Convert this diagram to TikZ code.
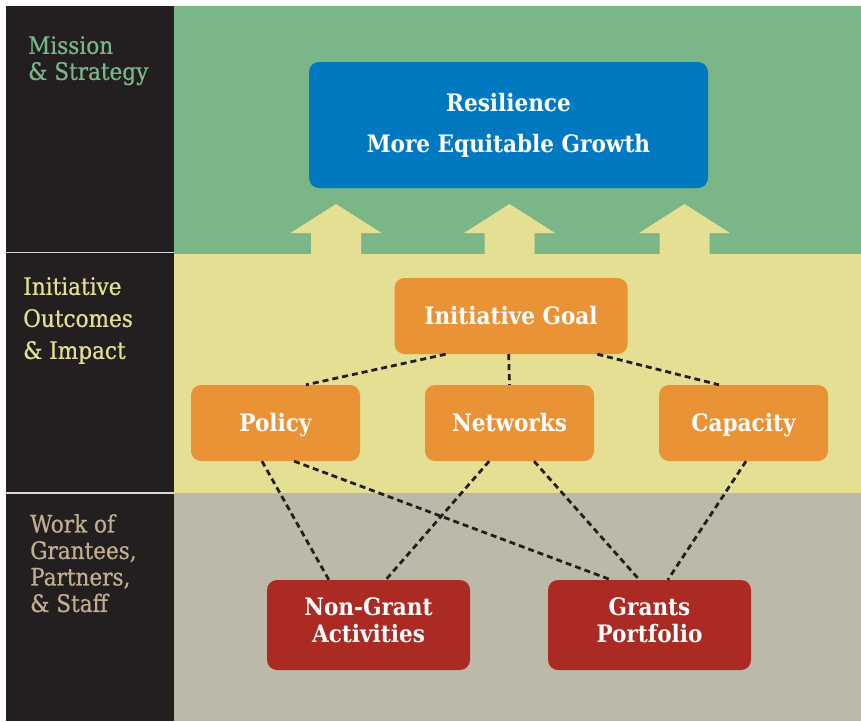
\documentclass[tikz,border=0pt]{standalone}
\usepackage{fontspec}
\newfontfamily\slab{DejaVu Serif Condensed}
\newfontfamily\slabmed[FakeBold=0.6]{DejaVu Serif Condensed}
\usetikzlibrary{calc}
\definecolor{darkcol}{HTML}{231F20}
\definecolor{greenbg}{HTML}{7AB687}
\definecolor{yellowbg}{HTML}{E5DF94}
\definecolor{graybg}{HTML}{BCB9A8}
\definecolor{bluebox}{HTML}{0079C1}
\definecolor{orangebox}{HTML}{EA9236}
\definecolor{redbox}{HTML}{AC2A24}
\definecolor{tantext}{HTML}{C2AE8E}
\definecolor{sepline}{HTML}{D8D8D8}
\tikzset{
  boxbase/.style={rounded corners=10pt, text=white, align=center, inner sep=0pt,
    font=\slab\bfseries\fontsize{24}{27}\selectfont},
  bluestyle/.style={boxbase, fill=bluebox, minimum width=399pt, minimum height=126pt},
  goalstyle/.style={boxbase, fill=orangebox, minimum width=233pt, minimum height=76pt,
    text height=17pt, text depth=0pt},
  midstyle/.style={boxbase, fill=orangebox, minimum width=169pt, minimum height=76pt,
    text height=17pt, text depth=0pt},
  redstyle/.style={boxbase, fill=redbox, minimum width=203pt, minimum height=90pt,
    text depth=9pt},
  sidelabel/.style={anchor=north west, align=left, inner sep=0pt},
  dashline/.style={draw=darkcol, line width=2.8pt, dash pattern=on 6pt off 4pt},
}
\begin{document}
\begin{tikzpicture}[x=1pt,y=-1pt]
\useasboundingbox (0,0) rectangle (861,721);
\fill[white] (0,0) rectangle (861,721);
% bands
\fill[darkcol] (6,6) rectangle (174,721);
\fill[greenbg] (174,6) rectangle (861,254);
\fill[yellowbg] (174,254) rectangle (861,493);
\fill[graybg] (174,493) rectangle (861,721);
\draw[sepline, line width=1.5pt] (6,252.5) -- (174,252.5);
\draw[sepline, line width=1.5pt] (6,493) -- (174,493);
% side labels
\node[sidelabel, text=greenbg, font=\slabmed\fontsize{24}{26}\selectfont] (lab1) at (28,36)
  {Mission\\\& Strategy};
\node[sidelabel, text=yellowbg, font=\slabmed\fontsize{24}{32}\selectfont] (lab2) at (23,277)
  {Initiative\\Outcomes\\\& Impact};
\node[sidelabel, text=tantext, font=\slabmed\fontsize{24}{26.5}\selectfont] (lab3) at (30,514)
  {Work of\\Grantees,\\Partners,\\\& Staff};
% up arrows
\foreach \cx in {336,509.5,684.5}{
  \fill[yellowbg] (\cx-25,254) -- (\cx-25,233) -- (\cx-45.5,233) -- (\cx,204)
     -- (\cx+45.5,233) -- (\cx+25,233) -- (\cx+25,254) -- cycle;
}
% boxes
\node[bluestyle] (res) at (508.5,125) {Resilience\\[14pt]More Equitable Growth};
\node[goalstyle] (goal) at (511,316) {Initiative Goal};
\node[midstyle] (policy) at (275.5,423) {Policy};
\node[midstyle] (networks) at (509.5,423) {Networks};
\node[midstyle] (capacity) at (743.5,423) {Capacity};
\node[redstyle] (nongrant) at (368.5,625) {Non-Grant\\Activities};
\node[redstyle] (grants) at (649.5,625) {Grants\\Portfolio};
% dashed connectors
\draw[dashline] ($(goal.south west)!0.22!(goal.south east)$) -- ($(policy.north west)!0.68!(policy.north east)$);
\draw[dashline] ($(goal.south west)!0.49!(goal.south east)$) -- (networks.north);
\draw[dashline] ($(goal.south west)!0.87!(goal.south east)$) -- ($(capacity.north west)!0.355!(capacity.north east)$);
\draw[dashline] ($(policy.south west)!0.42!(policy.south east)$) -- ($(nongrant.north west)!0.305!(nongrant.north east)$);
\draw[dashline] ($(policy.south west)!0.61!(policy.south east)$) -- ($(grants.north west)!0.31!(grants.north east)$);
\draw[dashline] ($(networks.south west)!0.38!(networks.south east)$) -- ($(nongrant.north west)!0.585!(nongrant.north east)$);
\draw[dashline] ($(networks.south west)!0.645!(networks.south east)$) -- ($(grants.north west)!0.45!(grants.north east)$);
\draw[dashline] ($(capacity.south west)!0.515!(capacity.south east)$) -- ($(grants.north west)!0.59!(grants.north east)$);
\end{tikzpicture}
\end{document}
